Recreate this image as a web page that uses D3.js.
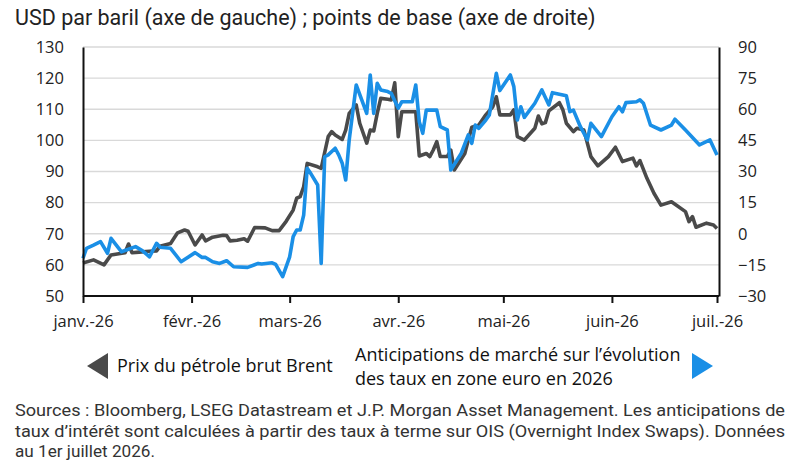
<!DOCTYPE html>
<html>
<head>
<meta charset="utf-8">
<script src="https://cdn.jsdelivr.net/npm/d3@7"></script>
<style>
  html, body { margin: 0; padding: 0; background: #fff; }
  svg { display: block; }
</style>
</head>
<body>
<svg id="chart" width="800" height="466"></svg>
<script>
// ---------- DATA ----------
const titleText = "USD par baril (axe de gauche) ; points de base (axe de droite)";
const leftTicks = [50, 60, 70, 80, 90, 100, 110, 120, 130];
const rightTicks = [-30, -15, 0, 15, 30, 45, 60, 75, 90];
const monthTicks = ["2026-01-01", "2026-02-01", "2026-03-01", "2026-04-01", "2026-05-01", "2026-06-01", "2026-07-01"];
const monthLabels = ["janv.-26", "févr.-26", "mars-26", "avr.-26", "mai-26", "juin-26", "juil.-26"];

const brentDates = ["2026-01-01","2026-01-04","2026-01-07","2026-01-09","2026-01-13","2026-01-14","2026-01-15","2026-01-17","2026-01-20","2026-01-22","2026-01-23","2026-01-26","2026-01-28","2026-01-30","2026-01-31",
  "2026-02-02","2026-02-04","2026-02-05","2026-02-07","2026-02-10","2026-02-11","2026-02-12","2026-02-14","2026-02-16","2026-02-17","2026-02-19","2026-02-22","2026-02-24","2026-02-26","2026-02-28",
  "2026-03-02","2026-03-03","2026-03-04","2026-03-05","2026-03-06","2026-03-09","2026-03-10","2026-03-12","2026-03-13","2026-03-14","2026-03-16","2026-03-17","2026-03-18","2026-03-20","2026-03-21","2026-03-23","2026-03-24","2026-03-25","2026-03-26","2026-03-27","2026-03-29","2026-03-30","2026-03-31",
  "2026-04-01","2026-04-02","2026-04-06","2026-04-07","2026-04-09","2026-04-10","2026-04-11","2026-04-12","2026-04-13","2026-04-15","2026-04-16","2026-04-17","2026-04-20","2026-04-21","2026-04-22","2026-04-24","2026-04-26","2026-04-28","2026-04-29","2026-04-30",
  "2026-05-03","2026-05-04","2026-05-05","2026-05-07","2026-05-10","2026-05-11","2026-05-12","2026-05-13","2026-05-14","2026-05-17","2026-05-18","2026-05-19","2026-05-21","2026-05-22","2026-05-24","2026-05-26","2026-05-28","2026-05-31",
  "2026-06-02","2026-06-04","2026-06-07","2026-06-08","2026-06-09","2026-06-11","2026-06-13","2026-06-15","2026-06-18","2026-06-22","2026-06-23","2026-06-24","2026-06-25","2026-06-28","2026-06-30","2026-07-01"];
const brentValues = [60.6,61.6,60.0,63.2,63.9,66.7,63.9,64.1,64.4,64.5,66.0,66.9,70.3,71.2,70.8,
  66.4,69.6,67.7,68.9,69.5,69.4,67.7,67.9,68.4,67.6,72.0,71.9,71.0,71.0,74.0,
  77.6,81.4,81.9,85.1,92.6,91.5,91.0,101.2,102.8,101.7,100.3,103.3,108.7,111.4,105.5,99.1,103.3,103.0,108.7,113.5,113.2,113.0,118.5,
  101.2,109.2,109.2,95.0,95.8,94.8,96.9,99.6,94.8,94.8,96.9,90.5,95.8,100.1,104.2,104.9,108.2,110.8,114.0,108.2,
  108.2,109.8,101.2,100.1,103.9,107.8,105.3,105.7,109.5,112.1,109.8,105.5,102.8,103.9,103.3,94.8,91.8,94.8,
  97.8,93.2,94.3,91.8,93.5,87.8,83.0,79.2,80.3,77.1,73.9,75.5,72.1,73.4,72.8,71.7];

const ratesDates = ["2026-01-01","2026-01-02","2026-01-04","2026-01-06","2026-01-08","2026-01-09","2026-01-12","2026-01-16","2026-01-18","2026-01-20","2026-01-22","2026-01-23","2026-01-26","2026-01-29",
  "2026-02-02","2026-02-04","2026-02-05","2026-02-07","2026-02-09","2026-02-11","2026-02-13","2026-02-17","2026-02-20","2026-02-21","2026-02-24","2026-02-25","2026-02-27",
  "2026-03-01","2026-03-02","2026-03-03","2026-03-04","2026-03-05","2026-03-06","2026-03-07","2026-03-09","2026-03-10","2026-03-11","2026-03-12","2026-03-14","2026-03-15","2026-03-16","2026-03-17","2026-03-18","2026-03-20","2026-03-23","2026-03-24","2026-03-25","2026-03-26","2026-03-27","2026-03-29","2026-03-30",
  "2026-04-01","2026-04-02","2026-04-05","2026-04-06","2026-04-07","2026-04-08","2026-04-09","2026-04-12","2026-04-13","2026-04-15","2026-04-16","2026-04-19","2026-04-21","2026-04-22","2026-04-23","2026-04-24","2026-04-26","2026-04-27","2026-04-29","2026-04-30",
  "2026-05-03","2026-05-04","2026-05-05","2026-05-06","2026-05-07","2026-05-10","2026-05-12","2026-05-14","2026-05-15","2026-05-18","2026-05-19","2026-05-20","2026-05-21","2026-05-23","2026-05-25","2026-05-26","2026-05-29",
  "2026-06-01","2026-06-03","2026-06-04","2026-06-05","2026-06-08","2026-06-09","2026-06-10","2026-06-12","2026-06-15","2026-06-18","2026-06-19","2026-06-22","2026-06-26","2026-06-29","2026-07-01"];
const ratesValues = [-11.8,-7.0,-5.5,-3.8,-9.4,-2.2,-8.7,-6.2,-8.2,-11.1,-4.6,-6.5,-7.0,-13.5,
  -9.1,-11.4,-11.4,-13.5,-14.3,-13.0,-15.9,-16.2,-14.3,-14.6,-14.0,-14.8,-20.7,
  -11.1,-1.4,1.8,1.8,9.0,31.5,29.1,23.5,-14.3,37.1,38.0,41.2,38.0,34.0,25.9,45.2,71.7,58.0,76.5,58.0,72.5,69.3,68.5,67.7,
  60.5,63.6,63.6,71.7,54.0,48.4,59.6,59.6,51.6,50.0,30.7,38.8,47.6,43.6,52.4,50.8,54.8,57.2,77.3,69.0,
  76.5,70.9,54.8,61.2,56.1,62.9,69.3,62.1,68.0,66.9,66.5,58.8,59.6,51.6,45.2,53.2,46.8,
  56.4,61.2,58.8,63.2,63.6,64.5,62.9,52.4,50.0,52.4,55.2,50.0,42.8,45.2,38.0];

const legendBrent = "Prix du pétrole brut Brent";
const legendRates = ["Anticipations de marché sur l\u2019évolution", "des taux en zone euro en 2026"];
const sourceLines = [
  "Sources : Bloomberg, LSEG Datastream et J.P. Morgan Asset Management. Les anticipations de",
  "taux d\u2019intérêt sont calculées à partir des taux à terme sur OIS (Overnight Index Swaps). Données",
  "au 1er juillet 2026."
];

// ---------- CHART ----------
const parse = d3.utcParse("%Y-%m-%d");
const svg = d3.select("#chart");
const L = 83, R = 719, T = 47, B = 296;
const grey = "#4a4a4a", blue = "#1a8fe6";
const tickFont = "'Open Sans', sans-serif";

const x = d3.scaleUtc().domain([parse("2026-01-01"), parse("2026-07-01")]).range([L, 717]);
const yL = d3.scaleLinear().domain([50, 130]).range([B, T]);
const yR = d3.scaleLinear().domain([-30, 90]).range([B, T]);

// title
svg.append("text").attr("x", 15).attr("y", 25)
  .attr("font-family", "Roboto, sans-serif").attr("font-size", 21.5).attr("fill", "#222")
  .text(titleText);

// gridlines
svg.append("g").selectAll("line").data(leftTicks.filter(v => v > 50)).join("line")
  .attr("x1", L).attr("x2", R).attr("y1", d => yL(d)).attr("y2", d => yL(d))
  .attr("stroke", "#d9d9d9").attr("stroke-width", 1.3);

// lines
const brent = brentDates.map((d, i) => ({ d: parse(d), v: brentValues[i] }));
const rates = ratesDates.map((d, i) => ({ d: parse(d), v: ratesValues[i] }));

svg.append("path").datum(brent)
  .attr("fill", "none").attr("stroke", grey).attr("stroke-width", 3.6).attr("stroke-linejoin", "round")
  .attr("d", d3.line().x(p => x(p.d)).y(p => yL(p.v)));
svg.append("path").datum(rates)
  .attr("fill", "none").attr("stroke", blue).attr("stroke-width", 3.6).attr("stroke-linejoin", "round")
  .attr("d", d3.line().x(p => x(p.d)).y(p => yR(p.v)));

// left axis
const gL = svg.append("g").attr("transform", `translate(${L},0)`)
  .call(d3.axisLeft(yL).tickValues(leftTicks).tickSize(0).tickPadding(19).tickFormat(d3.format("d")));
gL.select(".domain").attr("stroke", "#111").attr("stroke-width", 2);
gL.selectAll("text").attr("font-family", tickFont).attr("font-size", 16.5).attr("fill", "#222");

// right axis
const gR = svg.append("g").attr("transform", `translate(${R},0)`)
  .call(d3.axisRight(yR).tickValues(rightTicks).tickSize(0).tickPadding(19).tickFormat(d3.format("d")));
gR.select(".domain").attr("stroke", "#111").attr("stroke-width", 2);
gR.selectAll("text").attr("font-family", tickFont).attr("font-size", 16.5).attr("fill", "#222");

// bottom axis
const gB = svg.append("g").attr("transform", `translate(0,${B})`)
  .call(d3.axisBottom(x).tickValues(monthTicks.map(parse)).tickSize(7).tickPadding(12)
    .tickFormat((d, i) => monthLabels[i]));
gB.select(".domain").attr("d", `M${L},0H${R}`).attr("stroke", "#111").attr("stroke-width", 2);
gB.selectAll(".tick line").attr("stroke", "#111").attr("stroke-width", 2);
gB.selectAll("text").attr("font-family", tickFont).attr("font-size", 16.5).attr("fill", "#222");

// legend
const legFont = "'Open Sans', sans-serif";
svg.append("path").attr("d", "M87,366 L108,353 L108,379 Z").attr("fill", grey);
svg.append("text").attr("x", 117).attr("y", 372).attr("font-family", legFont).attr("font-size", 18)
  .attr("fill", "#111").text(legendBrent);
svg.append("text").attr("x", 355).attr("y", 361).attr("font-family", legFont).attr("font-size", 18)
  .attr("fill", "#111").text(legendRates[0]);
svg.append("text").attr("x", 355).attr("y", 385).attr("font-family", legFont).attr("font-size", 18)
  .attr("fill", "#111").text(legendRates[1]);
svg.append("path").attr("d", "M713,366 L692,353 L692,379 Z").attr("fill", blue);

// sources
const srcLens = [770, 770, 140];
sourceLines.forEach((s, i) => {
  svg.append("text").attr("x", 15).attr("y", 416 + i * 20.5)
    .attr("font-family", "Roboto, sans-serif").attr("font-size", 17).attr("fill", "#333")
    .attr("textLength", srcLens[i]).attr("lengthAdjust", "spacingAndGlyphs").text(s);
});
</script>
</body>
</html>
